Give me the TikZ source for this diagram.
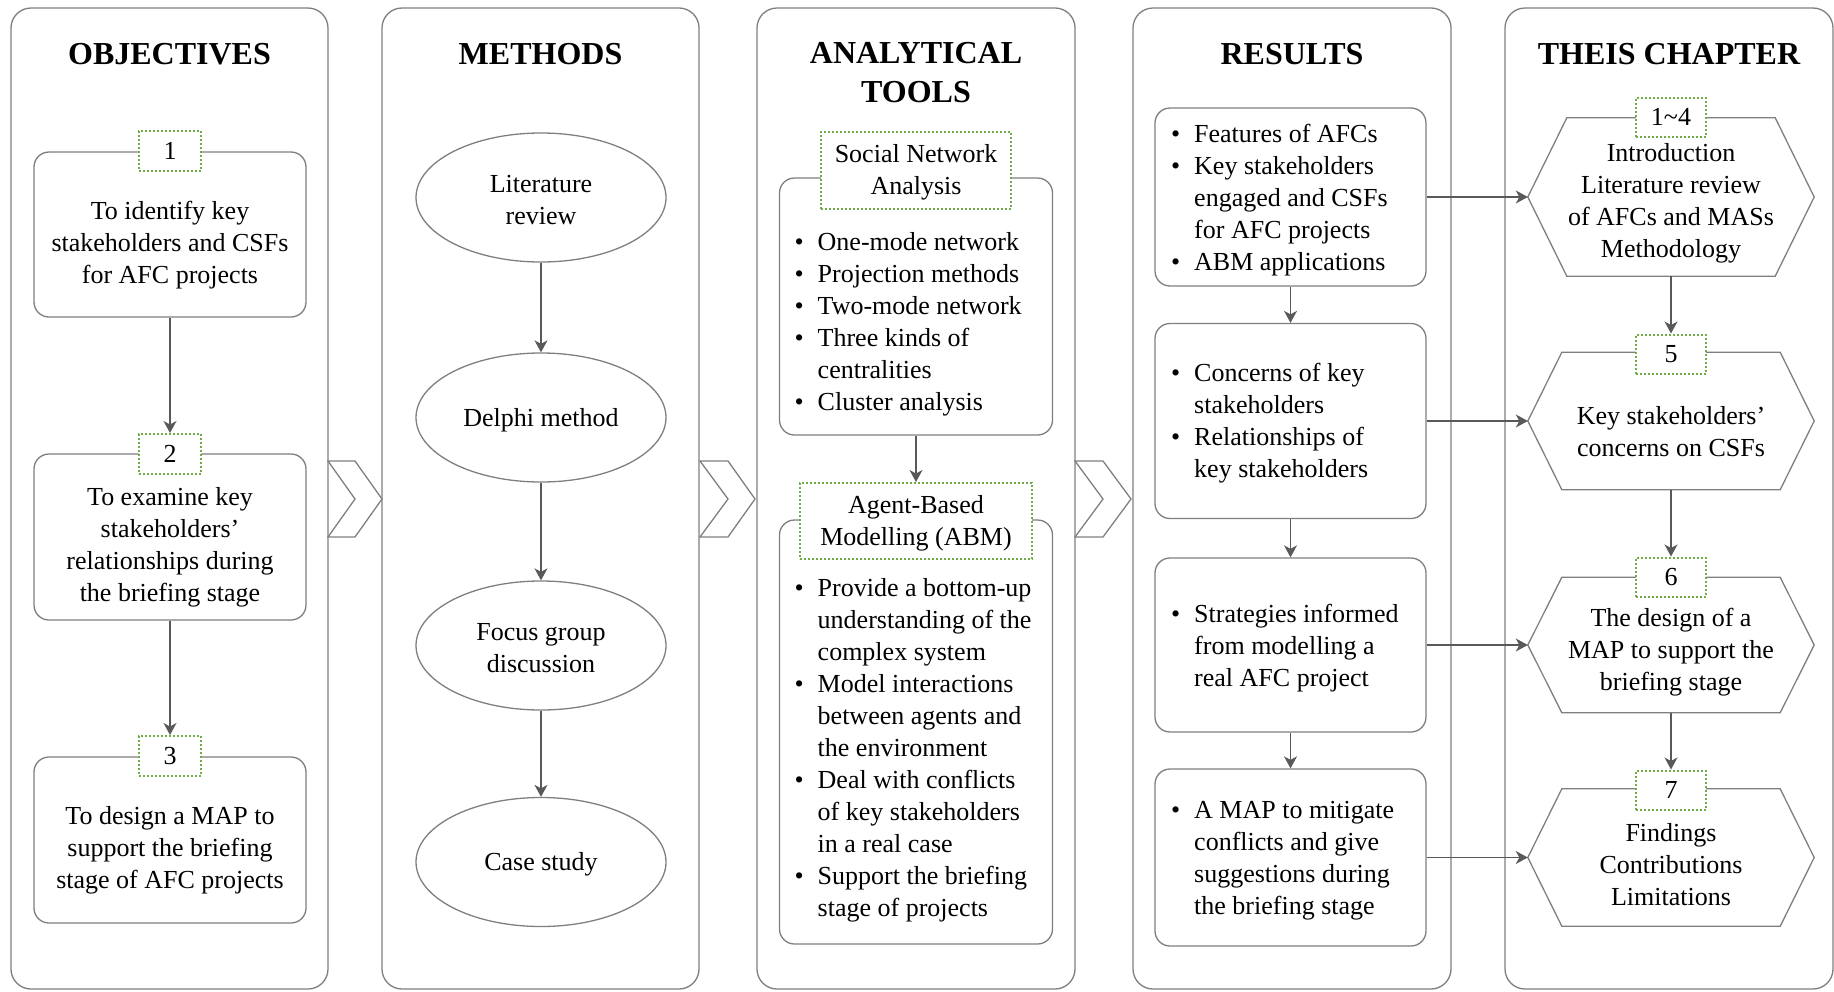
\documentclass[tikz,border=0pt]{standalone}
\usepackage{fontspec}
\setmainfont{Liberation Serif}
\usetikzlibrary{arrows.meta,calc,shapes.geometric}

\definecolor{edgegray}{HTML}{7F7F7F}
\definecolor{arrowgray}{HTML}{595959}
\definecolor{tagGreen}{HTML}{70AD47}

% bullet line and its continuation line
\newcommand{\bitem}[1]{\makebox[23pt][l]{\textbullet}#1}
\newcommand{\bcont}[1]{\hspace*{23pt}#1}

\begin{document}
\begin{tikzpicture}[x=1pt,y=-1pt,
  every node/.style={font=\fontsize{26}{32}\selectfont, inner sep=0pt},
  edge/.style={draw=edgegray, line width=1.3pt, line join=miter},
  panel/.style={edge, rounded corners=20pt},
  title/.style={font=\fontsize{32}{38.6}\selectfont\bfseries, align=center},
  box/.style={edge, rounded corners=15pt, fill=white},
  oval/.style={ellipse, edge, minimum width=250pt, minimum height=129pt},
  tag/.style={draw=tagGreen, line width=2pt, dash pattern=on 2pt off 2pt, fill=white, align=center},
  numtag/.style={tag, minimum width=62pt, minimum height=40pt},
  hextag/.style={tag, minimum width=70pt, minimum height=39pt},
  hexspot/.style={minimum width=286pt},
  conn/.style={draw=arrowgray, line width=1.3pt, -{Stealth[length=12pt,width=13pt,inset=3.5pt]}},
  txt/.style={align=center},
  list/.style={align=left, anchor=west}
]
\useasboundingbox (0,0) rectangle (1834,991);

% ---------- column panels ----------
\draw[panel] (11,8) rectangle (328,989);
\draw[panel] (382,8) rectangle (699,989);
\draw[panel] (757,8) rectangle (1075,989);
\draw[panel] (1133,8) rectangle (1451,989);
\draw[panel] (1505,8) rectangle (1833,989);

% ---------- chevrons between the panels ----------
\draw[edge] (328,461) -- (355,461) -- (382,499) -- (355,537) -- (328,537) -- (355,499) -- cycle;
\draw[edge] (700,461) -- (728,461) -- (755,499) -- (728,537) -- (700,537) -- (728,499) -- cycle;
\draw[edge] (1075,461) -- (1103,461) -- (1131,499) -- (1103,537) -- (1075,537) -- (1103,499) -- cycle;

% ---------- titles ----------
\node[title] (ttlObj) at (169.5,54) {OBJECTIVES};
\node[title] (ttlMet) at (540.5,54) {METHODS};
\node[title] (ttlAna) at (916,72.5) {ANALYTICAL\\TOOLS};
\node[title] (ttlRes) at (1292,54) {RESULTS};
\node[title] (ttlChp) at (1669,54) {THEIS CHAPTER};

% ---------- objectives ----------
\node[box, minimum width=272pt, minimum height=165pt] (o1) at (170,234.5) {};
\node[box, minimum width=272pt, minimum height=166pt] (o2) at (170,537) {};
\node[box, minimum width=272pt, minimum height=166pt] (o3) at (170,840) {};
\node[txt] (o1t) at (170,245) {To identify key\\stakeholders and CSFs\\for AFC projects};
\node[txt] (o2t) at (170,547.5) {To examine key\\stakeholders’\\relationships during\\the briefing stage};
\node[txt] (o3t) at (170,850.5) {To design a MAP to\\support the briefing\\stage of AFC projects};
\node[numtag] (k1) at (170,151) {1};
\node[numtag] (k2) at (170,454) {2};
\node[numtag] (k3) at (170,756) {3};
\draw[conn] (o1) -- (k2);
\draw[conn] (o2) -- (k3);

% ---------- methods ----------
\node[oval] (m1) at (541,197.5) {};
\node[oval] (m2) at (541,417.5) {};
\node[oval] (m3) at (541,645.5) {};
\node[oval] (m4) at (541,862) {};
\node[txt] (m1t) at (541,200) {Literature\\review};
\node[txt] (m2t) at (541,420.5) {Delphi method};
\node[txt] (m3t) at (541,648.5) {Focus group\\discussion};
\node[txt] (m4t) at (541,864.5) {Case study};
\draw[conn] (m1) -- (m2);
\draw[conn] (m2) -- (m3);
\draw[conn] (m3) -- (m4);

% ---------- analytical tools ----------
\node[box, minimum width=273pt, minimum height=257pt] (sna) at (916,306.5) {};
\node[box, minimum width=273pt, minimum height=424pt] (abm) at (916,732) {};
\node[list] (snaList) at (794.5,324) {\bitem{One-mode network}\\\bitem{Projection methods}\\\bitem{Two-mode network}\\\bitem{Three kinds of}\\\bcont{centralities}\\\bitem{Cluster analysis}};
\node[list] (abmList) at (794.5,750) {\bitem{Provide a bottom-up}\\\bcont{understanding of the}\\\bcont{complex system}\\\bitem{Model interactions}\\\bcont{between agents and}\\\bcont{the environment}\\\bitem{Deal with conflicts}\\\bcont{of key stakeholders}\\\bcont{in a real case}\\\bitem{Support the briefing}\\\bcont{stage of projects}};
\node[tag, minimum width=190pt, minimum height=77pt] (snaTag) at (916,170) {};
\node[tag, minimum width=232pt, minimum height=76pt] (abmTag) at (916,521) {};
\node[txt] (snaTagT) at (916,172.5) {Social Network\\Analysis};
\node[txt] (abmTagT) at (916,523.5) {Agent-Based\\Modelling (ABM)};
\draw[conn] (sna) -- (abmTag);

% ---------- results ----------
\node[box, minimum width=271pt, minimum height=178pt] (r1) at (1290.5,197) {};
\node[box, minimum width=271pt, minimum height=195pt] (r2) at (1290.5,421) {};
\node[box, minimum width=271pt, minimum height=174pt] (r3) at (1290.5,645) {};
\node[box, minimum width=271pt, minimum height=177pt] (r4) at (1290.5,857.5) {};
\node[list] (r1List) at (1171,200) {\bitem{Features of AFCs}\\\bitem{Key stakeholders}\\\bcont{engaged and CSFs}\\\bcont{for AFC projects}\\\bitem{ABM applications}};
\node[list] (r2List) at (1171,423.5) {\bitem{Concerns of key}\\\bcont{stakeholders}\\\bitem{Relationships of}\\\bcont{key stakeholders}};
\node[list] (r3List) at (1171,648) {\bitem{Strategies informed}\\\bcont{from modelling a}\\\bcont{real AFC project}};
\node[list] (r4List) at (1171,860.5) {\bitem{A MAP to mitigate}\\\bcont{conflicts and give}\\\bcont{suggestions during}\\\bcont{the briefing stage}};
\draw[conn] (r1) -- (r2);
\draw[conn] (r2) -- (r3);
\draw[conn] (r3) -- (r4);

% ---------- thesis chapters (hexagons) ----------
\node[hexspot, minimum height=158pt] (h1) at (1671,197) {};
\node[hexspot, minimum height=137pt] (h2) at (1671,421) {};
\node[hexspot, minimum height=135pt] (h3) at (1671,645) {};
\node[hexspot, minimum height=137pt] (h4) at (1671,857.5) {};
\foreach \h/\d in {h1/39, h2/34, h3/34, h4/34} {
  \draw[edge] (\h.west) -- ($(\h.north west)+(\d,0)$) -- ($(\h.north east)+(-\d,0)$)
    -- (\h.east) -- ($(\h.south east)+(-\d,0)$) -- ($(\h.south west)+(\d,0)$) -- cycle;
}
\node[txt] (h1t) at (1671,203.5) {Introduction\\Literature review\\of AFCs and MASs\\Methodology};
\node[txt] (h2t) at (1671,432) {Key stakeholders’\\concerns on CSFs};
\node[txt] (h3t) at (1671,652.5) {The design of a\\MAP to support the\\briefing stage};
\node[txt] (h4t) at (1671,864.5) {Findings\\Contributions\\Limitations};
\node[hextag] (k4) at (1671,117) {1\textasciitilde 4};
\node[hextag] (k5) at (1671,354) {5};
\node[hextag] (k6) at (1671,577) {6};
\node[hextag] (k7) at (1671,790) {7};
\draw[conn] (h1) -- (k5);
\draw[conn] (h2) -- (k6);
\draw[conn] (h3) -- (k7);

% ---------- results feed the chapters ----------
\draw[conn] (r1.east) -- (h1.west);
\draw[conn] (r2.east) -- (h2.west);
\draw[conn] (r3.east) -- (h3.west);
\draw[conn] (r4.east) -- (h4.west);
\end{tikzpicture}
\end{document}
